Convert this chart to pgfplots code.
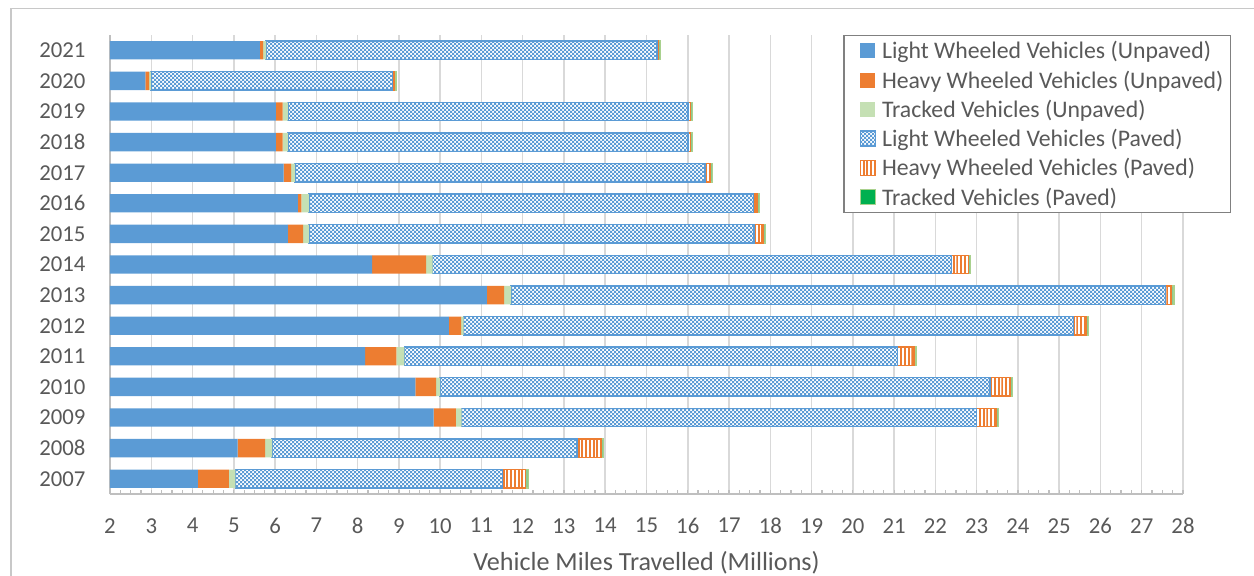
\documentclass[border=0pt]{standalone}
\usepackage{fontspec}
\setmainfont{Carlito}
\usepackage{pgfplots}
\pgfplotsset{compat=1.18}
\usepackage{pgfplotstable}
\usetikzlibrary{patterns,calc}

\definecolor{lwv}{HTML}{5B9BD5}
\definecolor{hwv}{HTML}{ED7D31}
\definecolor{trk}{HTML}{C5E0B4}
\definecolor{trkp}{HTML}{00B050}
\definecolor{trkpedge}{HTML}{A9D18E}
\definecolor{trkpbar}{HTML}{8CCB8F}
\definecolor{txt}{HTML}{595959}
\definecolor{gridc}{HTML}{D9D9D9}
\definecolor{axisc}{HTML}{BFBFBF}
\definecolor{legc}{HTML}{808080}
\definecolor{framec}{HTML}{C8C8C8}

% fine checkerboard for light wheeled vehicles on paved roads
\pgfdeclarepatternformonly{smallcheck}{\pgfqpoint{-0.01pt}{-0.01pt}}{\pgfqpoint{1.61pt}{1.61pt}}{\pgfqpoint{1.6pt}{1.6pt}}{%
  \pgfpathrectangle{\pgfpointorigin}{\pgfqpoint{0.8pt}{0.8pt}}%
  \pgfpathrectangle{\pgfqpoint{0.8pt}{0.8pt}}{\pgfqpoint{0.8pt}{0.8pt}}%
  \pgfusepath{fill}}
% vertical stripes for heavy wheeled vehicles on paved roads
\pgfdeclarepatternformonly{vstripes}{\pgfqpoint{-0.01pt}{-0.01pt}}{\pgfqpoint{1.51pt}{1.51pt}}{\pgfqpoint{1.5pt}{1.5pt}}{%
  \pgfpathrectangle{\pgfpointorigin}{\pgfqpoint{0.8pt}{1.5pt}}%
  \pgfusepath{fill}}

% vehicle miles travelled (millions) by vehicle class and surface
\pgfplotstableread{
year LU    HU   TU   LP    HP   TP
2007 4.13  0.75 0.16 6.47  0.56 0.07
2008 5.09  0.67 0.17 7.39  0.58 0.06
2009 9.84  0.54 0.14 12.47 0.48 0.05
2010 9.40  0.50 0.10 13.32 0.50 0.04
2011 8.18  0.76 0.19 11.95 0.40 0.05
2012 10.21 0.30 0.06 14.78 0.31 0.05
2013 11.13 0.42 0.17 15.86 0.14 0.06
2014 8.35  1.31 0.16 12.57 0.41 0.05
2015 6.31  0.37 0.14 10.78 0.23 0.06
2016 6.55  0.09 0.18 10.77 0.09 0.05
2017 6.21  0.18 0.09 9.94  0.12 0.06
2018 6.02  0.16 0.13 9.69  0.07 0.05
2019 6.02  0.16 0.13 9.69  0.07 0.05
2020 2.86  0.09 0.04 5.85  0.04 0.05
2021 5.63  0.08 0.07 9.48  0.03 0.04
}\vmt

\begin{document}
\begin{tikzpicture}
\begin{axis}[
  name=ax,
  scale only axis, width=429.2pt, height=183.6pt,
  xbar stacked, bar width=0.6,
  xmin=2, xmax=28, ymin=2006.5, ymax=2021.5,
  xtick={2,...,28}, minor x tick num=3,
  ytick={2007,...,2021},
  y tick label style={/pgf/number format/1000 sep={}},
  /pgf/number format/assume math mode=true,
  axis x line*=bottom, axis y line*=left,
  axis line style={draw=axisc, line width=0.6pt, -},
  xmajorgrids, major x grid style={draw=gridc, line width=0.6pt},
  tick align=inside,
  major tick length=1.6pt, minor tick length=1.6pt,
  x tick style={draw=axisc, line width=0.5pt},
  y tick style={draw=none},
  tick label style={font=\fontsize{9.1}{11}\selectfont, text=txt},
  xticklabel shift=6.2pt, yticklabel shift=6.3pt,
  xlabel={Vehicle Miles Travelled (Millions)},
  xlabel style={font=\fontsize{10.45}{12}\selectfont, text=txt,
    at={(axis description cs:0.5,0)}, anchor=center, yshift=-27.6pt},
  legend cell align=left,
  legend style={
    at={(1.0445,1.0007)}, anchor=north east,
    draw=legc, line width=0.5pt, fill=white,
    inner xsep=2.7pt, inner ysep=0.4pt,
    font=\fontsize{9.5}{11}\selectfont, text=txt,
    nodes={inner sep=0pt, text height=9pt, text depth=2.7pt},
    column sep=2.4pt, row sep=0pt,
  },
  legend image code/.code={
    \path (0pt,0pt);
    \path[#1] (3.5pt,-3pt) rectangle (9.5pt,3pt);
  },
]
\addplot[fill=lwv, draw=none] table[x=LU, y=year]{\vmt};
\addplot[fill=hwv, draw=none] table[x=HU, y=year]{\vmt};
\addplot[fill=trk, draw=none] table[x=TU, y=year]{\vmt};
\addplot[draw=lwv, line width=0.6pt, preaction={fill=white},
  pattern=smallcheck, pattern color=lwv] table[x=LP, y=year]{\vmt};
\addplot[draw=hwv, line width=0.6pt, preaction={fill=white},
  pattern=vstripes, pattern color=hwv] table[x=HP, y=year]{\vmt};
\addplot[fill=trkpbar, draw=trkpedge, line width=0.5pt,
  legend image post style={fill=trkp}] table[x=TP, y=year]{\vmt};
\legend{Light Wheeled Vehicles (Unpaved),
        Heavy Wheeled Vehicles (Unpaved),
        Tracked Vehicles (Unpaved),
        Light Wheeled Vehicles (Paved),
        Heavy Wheeled Vehicles (Paved),
        Tracked Vehicles (Paved)}
\end{axis}
\pgfresetboundingbox
\path[use as bounding box] ($(ax.south west)+(-44pt,-32.4pt)$) rectangle ($(ax.north east)+(28.4pt,14pt)$);
\draw[draw=framec, line width=0.5pt] ($(ax.south west)+(-39.6pt,-60pt)$) rectangle ($(ax.north east)+(60pt,10.6pt)$);
\end{tikzpicture}
\end{document}
